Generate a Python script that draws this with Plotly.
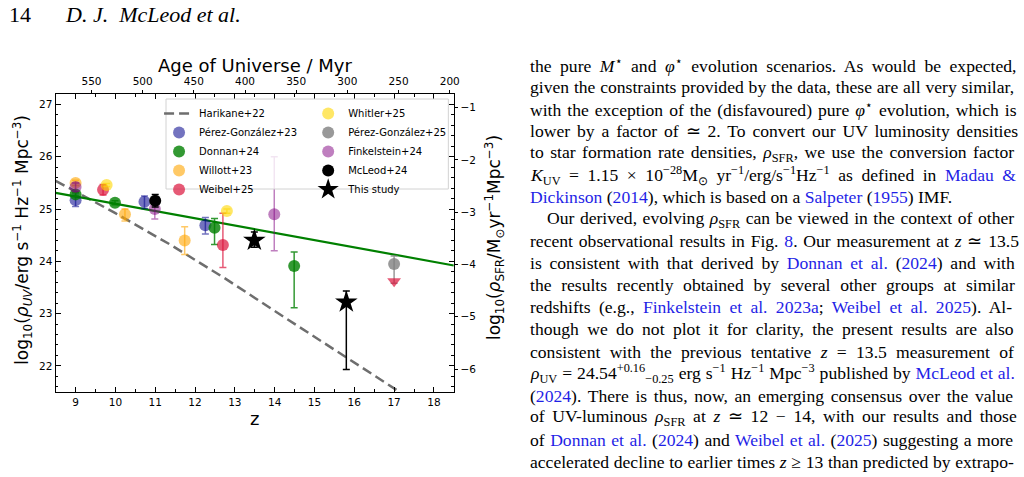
import plotly.graph_objects as go
import math
import re

W, H = 1024, 477

# ---------------- data ----------------
Z_RANGE = [8.5, 18.5]
LOGRHO_RANGE = [21.5, 27.2]
AGE_RANGE = [585, 196]          # Age of Universe (Myr) at z = 8.5 and 18.5
KUV = 1.15e-28                  # conversion factor
Z_TICKS = [9, 10, 11, 12, 13, 14, 15, 16, 17, 18]
AGE_TICKS = [550, 500, 450, 400, 350, 300, 250, 200]

harikane_z = [8.5, 10.0, 11.4, 12.8, 14.0, 15.8, 17.1]
harikane_y = [25.54, 24.92, 24.31, 23.65, 23.05, 22.17, 21.52]

fit_z = [8.5, 18.5]
fit_y = [25.31, 23.92]

pg23_z = [9.0, 10.73, 12.26]
pg23_y = [25.17, 25.14, 24.69]
pg23_up = [0.12, 0.11, 0.15]
pg23_dn = [0.12, 0.13, 0.17]

donnan_z = [9.0, 9.99, 12.49, 14.49]
donnan_y = [25.28, 25.12, 24.64, 23.91]
donnan_up = [0.04, 0.04, 0.18, 0.27]
donnan_dn = [0.04, 0.04, 0.32, 0.80]

willott_z = [9.0, 10.24, 11.74]
willott_y = [25.50, 24.90, 24.40]
willott_up = [0.05, 0.10, 0.26]
willott_dn = [0.05, 0.13, 0.27]

weibel_z = [9.69, 12.70]
weibel_y = [25.37, 24.31]
weibel_up = [0.10, 0.61]
weibel_dn = [0.10, 0.43]
weibel_lim_z = [17.0]
weibel_lim_y = [23.62]

whitler_z = [9.78, 12.80]
whitler_y = [25.46, 24.96]
whitler_up = [0.03, 0.04]
whitler_dn = [0.03, 0.04]

pg25_z = [17.0]
pg25_y = [23.95]
pg25_up = [0.15]
pg25_dn = [0.37]

fink_z = [9.0, 10.99, 13.99]
fink_y = [25.42, 25.00, 24.90]
fink_up = [0.08, 0.12, 1.10]
fink_dn = [0.08, 0.19, 0.70]

mcleod_z = [11.0]
mcleod_y = [25.16]
mcleod_up = [0.12]
mcleod_dn = [0.12]

this_z = [13.49, 15.80]
this_y = [24.40, 23.22]
this_up = [0.16, 0.21]
this_dn = [0.13, 1.29]

L = "<span style='color:#1f1fe6'>"
E = "</span>"
TEXT_LINES = [
    "the pure <i>M</i><sup>⋆</sup> and <i>φ</i><sup>⋆</sup> evolution scenarios. As would be expected,",
    "given the constraints provided by the data, these are all very similar,",
    "with the exception of the (disfavoured) pure <i>φ</i><sup>⋆</sup> evolution, which is",
    "lower by a factor of ≃ 2. To convert our UV luminosity densities",
    "to star formation rate densities, <i>ρ</i><sub>SFR</sub>, we use the conversion factor",
    "<i>K</i><sub>UV</sub> = 1.15 × 10<sup>−28</sup>M<sub>⊙</sub> yr<sup>−1</sup>/erg/s<sup>−1</sup>Hz<sup>−1</sup> as defined in " + L + "Madau &amp;" + E,
    L + "Dickinson" + E + " (" + L + "2014" + E + "), which is based on a " + L + "Salpeter" + E + " (" + L + "1955" + E + ") IMF.",
    "Our derived, evolving <i>ρ</i><sub>SFR</sub> can be viewed in the context of other",
    "recent observational results in Fig. " + L + "8" + E + ". Our measurement at <i>z</i> ≃ 13.5",
    "is consistent with that derived by " + L + "Donnan et al." + E + " (" + L + "2024" + E + ") and with",
    "the results recently obtained by several other groups at similar",
    "redshifts (e.g., " + L + "Finkelstein et al. 2023a" + E + "; " + L + "Weibel et al. 2025" + E + "). Al-",
    "though we do not plot it for clarity, the present results are also",
    "consistent with the previous tentative <i>z</i> = 13.5 measurement of",
    "<i>ρ</i><sub>UV</sub> = 24.54<sup>+0.16</sup><sub>−0.25</sub> erg s<sup>−1</sup> Hz<sup>−1</sup> Mpc<sup>−3</sup> published by " + L + "McLeod et al." + E,
    "(" + L + "2024" + E + "). There is thus, now, an emerging consensus over the value",
    "of UV-luminous <i>ρ</i><sub>SFR</sub> at <i>z</i> ≃ 12 − 14, with our results and those",
    "of " + L + "Donnan et al." + E + " (" + L + "2024" + E + ") and " + L + "Weibel et al." + E + " (" + L + "2025" + E + ") suggesting a more",
    "accelerated decline to earlier times <i>z</i> ≥ 13 than predicted by extrapo-",
]
INDENTED = [7]
NOT_JUSTIFIED = [6]

# Times / Liberation Serif advance widths (1/1000 em) used to justify the text column
TIMES = {' ': 250, '!': 333, '(': 333, ')': 333, '+': 564, ',': 250, '-': 333, '.': 250, '/': 278,
         ':': 278, ';': 278, '=': 564, '&': 778, '?': 444,
         'A': 722, 'B': 667, 'C': 667, 'D': 722, 'E': 611, 'F': 556, 'G': 722, 'H': 722, 'I': 333,
         'J': 389, 'K': 722, 'L': 611, 'M': 889, 'N': 722, 'O': 722, 'P': 556, 'Q': 722, 'R': 667,
         'S': 556, 'T': 611, 'U': 722, 'V': 722, 'W': 944, 'X': 722, 'Y': 722, 'Z': 611,
         'a': 444, 'b': 500, 'c': 444, 'd': 500, 'e': 444, 'f': 333, 'g': 500, 'h': 500, 'i': 278,
         'j': 278, 'k': 500, 'l': 278, 'm': 778, 'n': 500, 'o': 500, 'p': 500, 'q': 500, 'r': 333,
         's': 389, 't': 278, 'u': 500, 'v': 500, 'w': 722, 'x': 500, 'y': 500, 'z': 444,
         'ρ': 520, 'φ': 560, '⋆': 500, '≃': 560, '×': 564, '−': 564, '⊙': 700, '≥': 549}
for d in '0123456789':
    TIMES[d] = 500


def natural_width(html, size):
    w, scale, spaces = 0.0, 1.0, 0
    for tok in re.split(r'(<[^>]+>)', html):
        if tok.startswith('<'):
            tag = tok.strip('<>/').split()[0].lower()
            if tag in ('sub', 'sup'):
                scale = 1.0 if tok.startswith('</') else 0.7
            continue
        tok = tok.replace('&amp;', '&')
        for ch in tok:
            w += TIMES.get(ch, 520) / 1000 * size * scale
            if ch == ' ':
                spaces += 1
    return w, spaces


def px(x):
    return x / W


def py(y):
    return 1 - y / H


FONT = "DejaVu Sans"
SERIF = "Liberation Serif"
TXT_SIZE = 17.6
COL_LEFT, COL_RIGHT, INDENT = 531, 1016, 548

fig = go.Figure()

fig.add_trace(go.Scatter(x=harikane_z, y=harikane_y, mode="lines", name="Harikane+22",
                         line=dict(color="rgb(110,110,110)", width=2.5, dash="10px,5px"),
                         legend="legend"))
fig.add_trace(go.Scatter(x=fit_z, y=fit_y, mode="lines", showlegend=False,
                         line=dict(color="green", width=2.2)))


def pts(z, y, up, dn, name, rgba, legend, symbol="circle", size=12, ecol=None):
    fig.add_trace(go.Scatter(
        x=z, y=y, mode="markers", name=name, legend=legend,
        marker=dict(color=rgba, size=size, symbol=symbol, line=dict(width=0)),
        error_y=dict(type="data", symmetric=False, array=up, arrayminus=dn,
                     color=ecol or rgba, thickness=1.5, width=3.5)))


pts(pg23_z, pg23_y, pg23_up, pg23_dn, "Pérez-González+23", "rgba(0,0,139,0.55)", "legend")
pts(donnan_z, donnan_y, donnan_up, donnan_dn, "Donnan+24", "rgba(0,128,0,0.8)", "legend")
pts(willott_z, willott_y, willott_up, willott_dn, "Willott+23", "rgba(255,165,0,0.6)", "legend")
pts(weibel_z, weibel_y, weibel_up, weibel_dn, "Weibel+25", "rgba(220,20,60,0.7)", "legend")
pts(whitler_z, whitler_y, whitler_up, whitler_dn, "Whitler+25", "rgba(255,215,0,0.6)", "legend2")
pts(pg25_z, pg25_y, pg25_up, pg25_dn, "Pérez-González+25", "rgba(128,128,128,0.8)", "legend2")
pts(fink_z, fink_y, fink_up, fink_dn, "Finkelstein+24", "rgba(128,0,128,0.5)", "legend2")
pts(mcleod_z, mcleod_y, mcleod_up, mcleod_dn, "McLeod+24", "black", "legend2")
pts(this_z, this_y, this_up, this_dn, "This study", "black", "legend2", symbol="star", size=17)

fig.add_trace(go.Scatter(x=weibel_lim_z, y=weibel_lim_y, mode="markers", showlegend=False,
                         marker=dict(color="rgba(220,20,60,0.7)", size=12, symbol="triangle-down")))

# empty trace so that the secondary (twin) axes are drawn
fig.add_trace(go.Scatter(x=[], y=[], xaxis="x2", yaxis="y2", showlegend=False))

dom_x = [px(56), px(456.5)]
dom_y = [py(392), py(94)]
off = math.log10(KUV)

common = dict(showgrid=False, zeroline=False, color="black",
              tickfont=dict(family=FONT, size=10.5, color="black"))
fig.update_layout(
    width=W, height=H, margin=dict(l=0, r=0, t=0, b=0),
    paper_bgcolor="white", plot_bgcolor="white",
    xaxis=dict(domain=dom_x, range=Z_RANGE, tickvals=Z_TICKS, ticks="inside", ticklen=5,
               tickwidth=1.1, showline=True, linecolor="black", linewidth=1.3, mirror="ticks",
               minor=dict(dtick=0.5, ticks="inside", ticklen=2.5, tickwidth=1), anchor="y", **common),
    yaxis=dict(domain=dom_y, range=LOGRHO_RANGE, dtick=1, ticks="inside", ticklen=5,
               tickwidth=1.1, showline=True, linecolor="black", linewidth=1.3, mirror="ticks",
               minor=dict(dtick=0.2, ticks="inside", ticklen=2.5, tickwidth=1), anchor="x", **common),
    xaxis2=dict(overlaying="x", side="top", range=AGE_RANGE, tickvals=AGE_TICKS,
                ticks="outside", ticklen=3.5, tickwidth=1.1, showline=False, anchor="y", **common),
    yaxis2=dict(overlaying="y", side="right", range=[LOGRHO_RANGE[0] + off, LOGRHO_RANGE[1] + off],
                dtick=1, ticks="outside", ticklen=3.5, tickwidth=1.1, showline=False, anchor="x", **common),
    legend=dict(x=px(160), y=py(99), xanchor="left", yanchor="top", bgcolor="rgba(0,0,0,0)",
                font=dict(family=FONT, size=10, color="black"), tracegroupgap=0),
    legend2=dict(x=px(310), y=py(99), xanchor="left", yanchor="top", bgcolor="rgba(0,0,0,0)",
                 font=dict(family=FONT, size=10, color="black"), tracegroupgap=0),
    showlegend=True,
)

# legend frame
fig.add_shape(type="rect", xref="paper", yref="paper", x0=px(167), x1=px(451), y0=py(189), y1=py(99),
              line=dict(color="rgb(210,210,210)", width=1), fillcolor="rgba(255,255,255,0.8)", layer="above")

ann = []
ann.append(dict(text="Age of Universe / Myr", x=px(256), y=py(66), font=dict(family=FONT, size=18)))
ann.append(dict(text="z", x=px(256), y=py(418), font=dict(family=FONT, size=18)))
ann.append(dict(text="log<sub>10</sub>(<i>ρ</i><sub><i>UV</i></sub>/erg s<sup>−1</sup> Hz<sup>−1</sup> Mpc<sup>−3</sup>)",
                x=px(22), y=py(240), textangle=-90, font=dict(family=FONT, size=17)))
ann.append(dict(text="log<sub>10</sub>(<i>ρ</i><sub>SFR</sub>/M<sub>⊙</sub>yr<sup>−1</sup>Mpc<sup>−3</sup>)",
                x=px(497), y=py(238), textangle=-90, font=dict(family=FONT, size=17)))
ann.append(dict(text="14", x=px(7), y=py(15), xanchor="left", font=dict(family=SERIF, size=22)))
ann.append(dict(text="<i>D. J.  McLeod et al.</i>", x=px(63), y=py(15), xanchor="left",
                font=dict(family=SERIF, size=22)))
for i, t in enumerate(TEXT_LINES):
    x0 = INDENT if i in INDENTED else COL_LEFT
    if i not in NOT_JUSTIFIED:
        w, n = natural_width(t, TXT_SIZE)
        ws = (COL_RIGHT - x0 - w) / max(n, 1)
        t = "<span style='word-spacing:%.2fpx'>%s</span>" % (ws, t)
    ann.append(dict(text=t, x=px(x0), y=py(65 + i * 22.04), xanchor="left",
                    font=dict(family=SERIF, size=TXT_SIZE)))

for a in ann:
    a.setdefault("xanchor", "center")
    a.update(xref="paper", yref="paper", showarrow=False, yanchor="middle")
    a["font"].setdefault("color", "black")
fig.update_layout(annotations=ann)

fig.write_html("out.html")
